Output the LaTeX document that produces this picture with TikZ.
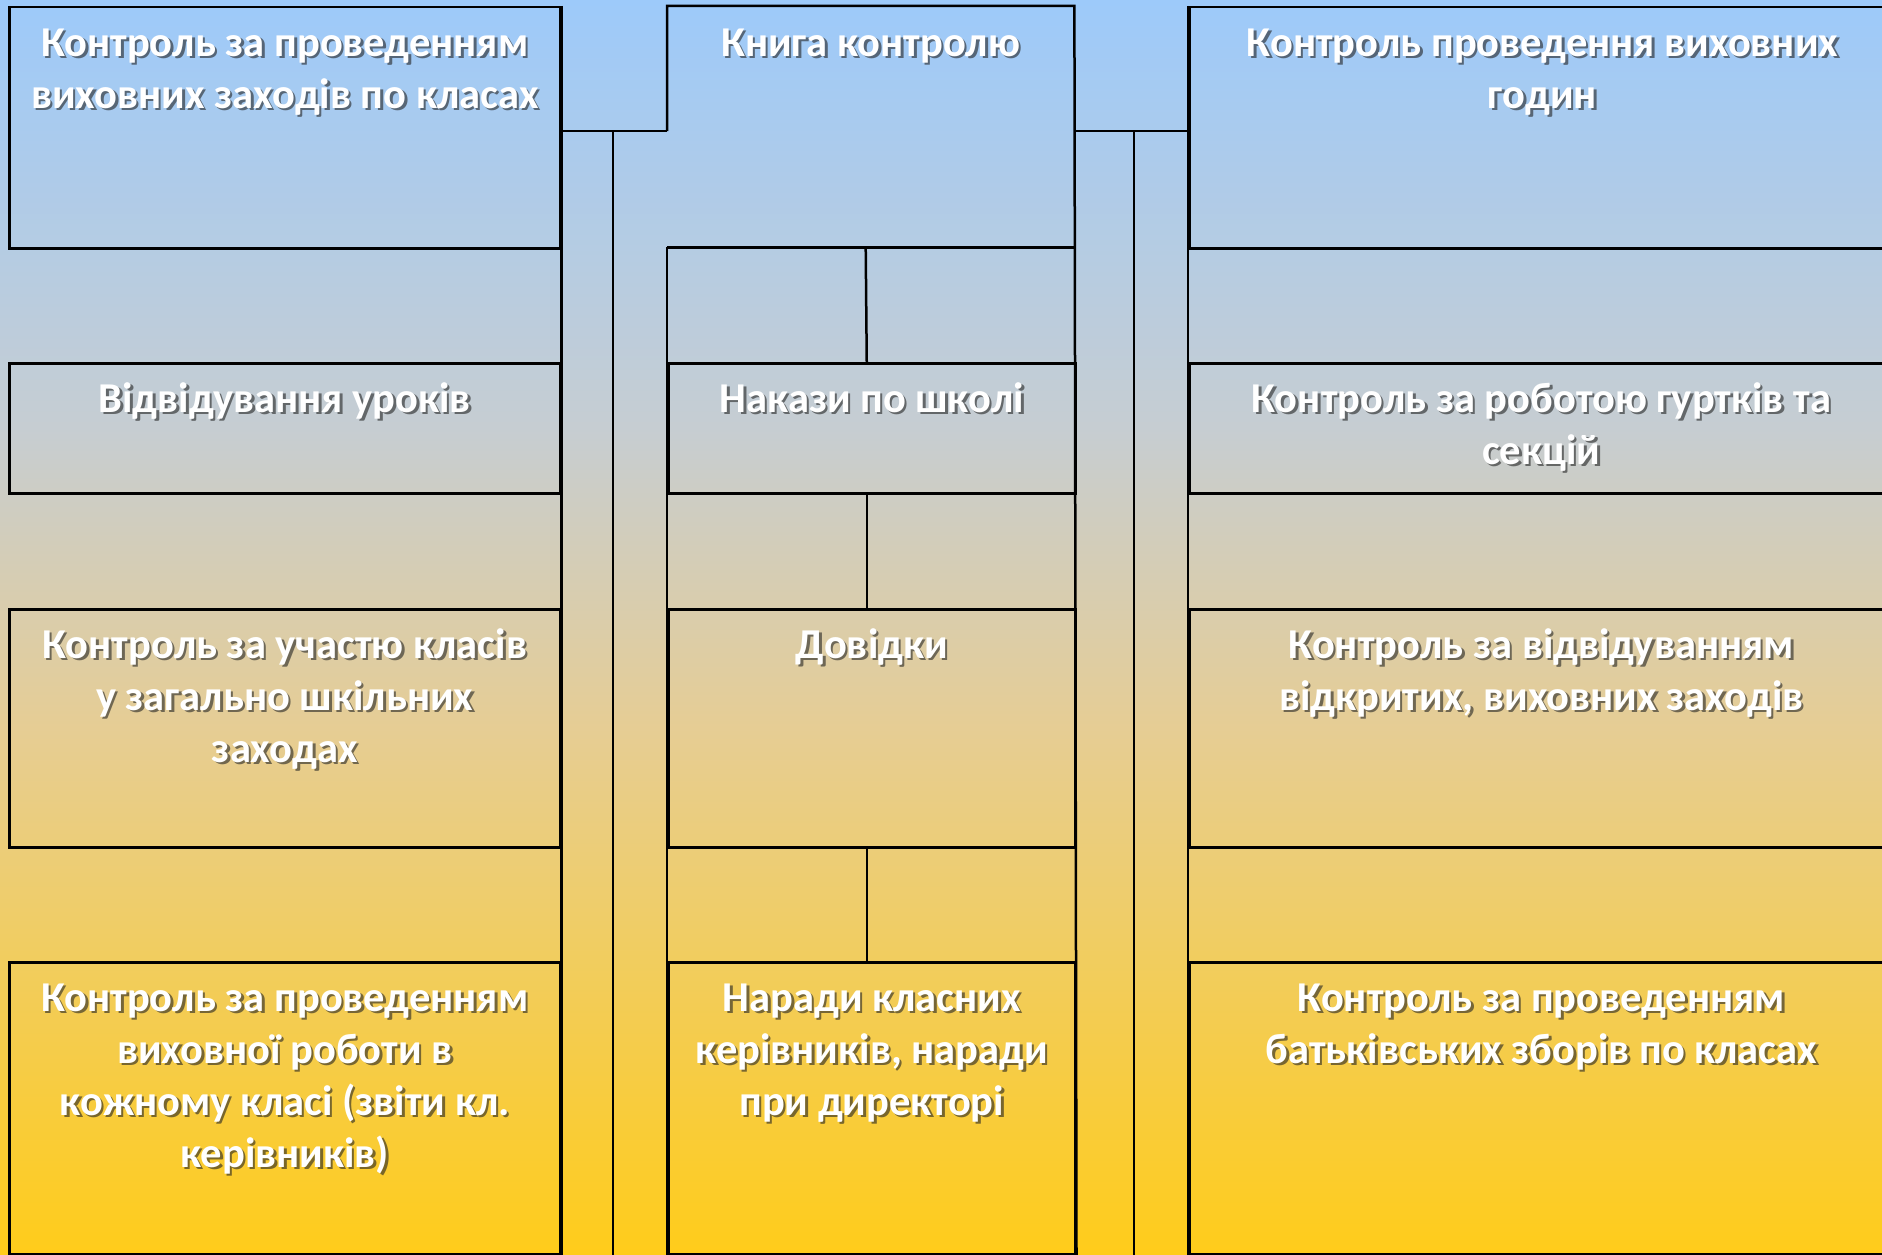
\documentclass[tikz,border=0pt]{standalone}
\usepackage{fontspec}
\setmainfont{Carlito}
\usetikzlibrary{positioning}

\definecolor{skytop}{RGB}{157,202,250}
\definecolor{skygrey}{RGB}{198,205,210}
\definecolor{sand}{RGB}{230,205,148}
\definecolor{goldbot}{RGB}{255,204,26}
\definecolor{textshade}{RGB}{35,35,35}

\pgfdeclareverticalshading{backfade}{100bp}{color(0bp)=(goldbot); color(25bp)=(goldbot); color(46bp)=(sand); color(58bp)=(skygrey); color(75bp)=(skytop); color(100bp)=(skytop)}

\tikzset{
  box/.style={draw=black, line width=2.5pt, anchor=north west, inner sep=0pt},
  cell/.style={anchor=north west, inner sep=0pt},
  rule/.style={draw=black, line width=2.5pt},
  txt/.style={anchor=north, text=white, align=center, inner sep=0pt, yshift=-13.5pt,
    font=\bfseries\fontsize{42.5}{52}\selectfont},
  txtshade/.style={txt, text=textshade, text opacity=0.6, xshift=2.5pt, yshift=-2.8pt}
}

% text with a dark drop shadow, hung from the top of a box
\newcommand\boxtext[3]{%
  \node[txtshade] (#1-sh) at (#2.north) {\strut#3};
  \node[txt] (#1) at (#2.north) {\strut#3};
}

\begin{document}
\begin{tikzpicture}[x=1pt,y=-1pt]
  \useasboundingbox (0,0) rectangle (1882,1255);
  \clip (0,0) rectangle (1882,1255);
  \shade[shading=backfade] (0,0) rectangle (1882,1255);

  % left column
  \node[box, minimum width=551, minimum height=241] (ctlEvents) at (8,6) {};
  \node[box, minimum width=551, minimum height=130] (visits) at (8,362) {};
  \node[box, minimum width=551, minimum height=238] (participation) at (8,608) {};
  \node[box, minimum width=551, minimum height=292] (classWork) at (8,961) {};

  % centre column
  \node[cell, minimum width=407, minimum height=241] (book) at (667,6) {};
  \node[box, minimum width=407, minimum height=130] (orders) at (667,362) {};
  \node[box, minimum width=407, minimum height=238] (notes) at (667,608) {};
  \node[box, minimum width=407, minimum height=292] (meetings) at (667,961) {};

  % right column
  \node[box, minimum width=704, minimum height=241] (ctlHours) at (1188,6) {};
  \node[box, minimum width=704, minimum height=130] (clubs) at (1188,362) {};
  \node[box, minimum width=704, minimum height=238] (openEvents) at (1188,608) {};
  \node[box, minimum width=704, minimum height=292] (parents) at (1188,961) {};

  \coordinate (forkL) at (613,131);
  \coordinate (forkR) at (1134,131);

  % frame lines
  \draw[rule] (ctlEvents.north east) -- (ctlEvents.north east |- classWork.south);
  \draw[rule] (ctlEvents.east |- forkL) -- (book.west |- forkL);
  \draw[rule] (forkL) -- (forkL |- classWork.south);
  \draw[rule] (book.west |- forkL) -- (book.north west) -- (book.north east)
    -- (meetings.south east);
  \draw[rule] (book.south west) -- (book.south east);
  \draw[rule] (book.south west) -- (meetings.south west);
  \draw[rule] ([xshift=-5pt]book.south) -- ([xshift=-5pt]orders.north);
  \draw[rule] ([xshift=-5pt]orders.south) -- ([xshift=-5pt]notes.north);
  \draw[rule] ([xshift=-5pt]notes.south) -- ([xshift=-5pt]meetings.north);
  \draw[rule] (book.east |- forkR) -- (ctlHours.west |- forkR);
  \draw[rule] (forkR) -- (forkR |- parents.south);
  \draw[rule] (ctlHours.north west) -- (parents.south west);

  % labels
  \boxtext{tEvents}{ctlEvents}{Контроль за проведенням\\виховних заходів по класах}
  \boxtext{tVisits}{visits}{Відвідування уроків}
  \boxtext{tPart}{participation}{Контроль за участю класів\\у загально шкільних\\заходах}
  \boxtext{tClass}{classWork}{Контроль за проведенням\\виховної роботи в\\кожному класі (звіти кл.\\керівників)}
  \boxtext{tBook}{book}{Книга контролю}
  \boxtext{tOrders}{orders}{Накази по школі}
  \boxtext{tNotes}{notes}{Довідки}
  \boxtext{tMeet}{meetings}{Наради класних\\керівників, наради\\при директорі}
  \node[txtshade] (tHours-sh) at ([xshift=-352pt]ctlHours.north east) {\strut Контроль проведення виховних\\годин};
  \node[txt] (tHours) at ([xshift=-352pt]ctlHours.north east) {\strut Контроль проведення виховних\\годин};
  \boxtext{tClubs}{clubs}{Контроль за роботою гуртків та\\секцій}
  \boxtext{tOpen}{openEvents}{Контроль за відвідуванням\\відкритих, виховних заходів}
  \boxtext{tParents}{parents}{Контроль за проведенням\\батьківських зборів по класах}
\end{tikzpicture}
\end{document}
